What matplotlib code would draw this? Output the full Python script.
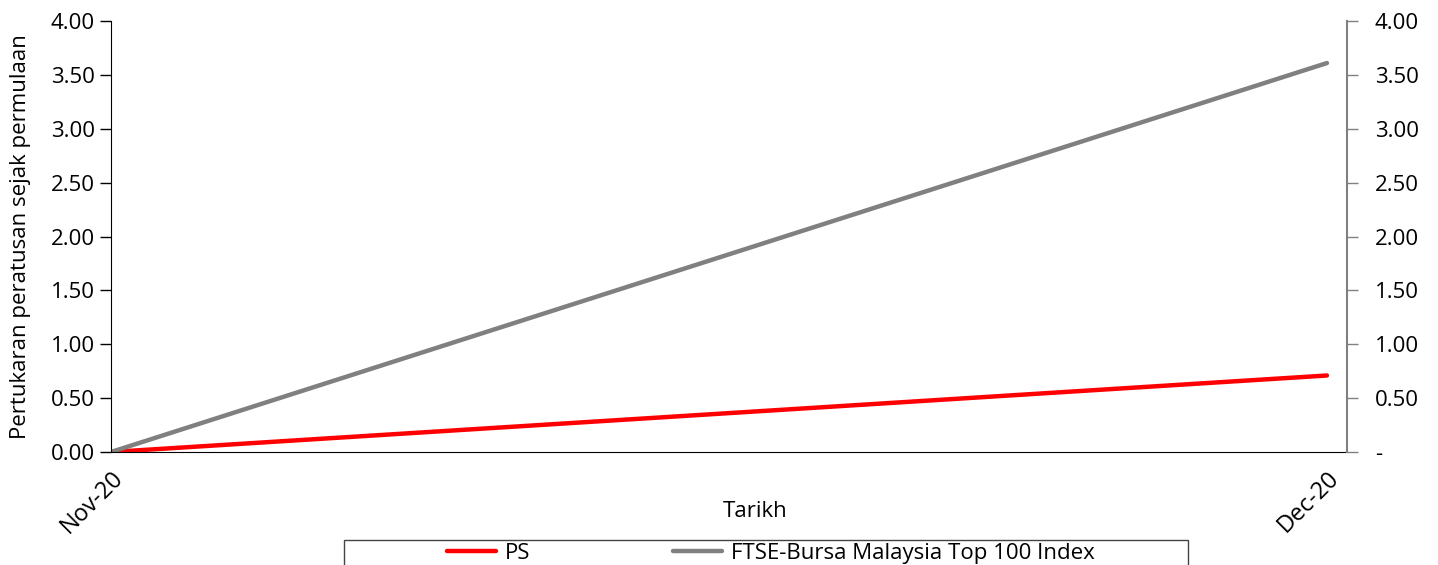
import matplotlib
matplotlib.use("Agg")
from matplotlib import pyplot as plt
from matplotlib.patches import Rectangle
from matplotlib.ticker import FuncFormatter

# data
dates = ["Nov-20", "Dec-20"]
ps = [0.0, 0.71]
ftse = [0.0, 3.61]
series_names = ["PS", "FTSE-Bursa Malaysia Top 100 Index"]

plt.rcParams['font.family'] = ['Open Sans', 'DejaVu Sans']
FS = 16

fig = plt.figure(figsize=(14.38, 5.65), dpi=100)
ax = fig.add_axes([0.0772, 0.2, 0.8595, 0.7628])

x = list(range(len(dates)))
l1, = ax.plot(x, ps, color="#FF0000", lw=3.2, solid_capstyle="round", label=series_names[0])
l2, = ax.plot(x, ftse, color="#808080", lw=3.2, solid_capstyle="round", label=series_names[1])

ax.set_xlim(0, 1 + 20 / 1215)
ax.set_ylim(0, 4)
ax.set_yticks([0, 0.5, 1, 1.5, 2, 2.5, 3, 3.5, 4])
ax.yaxis.set_major_formatter(FuncFormatter(lambda v, p: "%.2f" % v))
ax.set_xticks(x)
ax.set_xticklabels(dates, rotation=45, ha="right", rotation_mode="anchor", fontsize=FS + 1)
ax.tick_params(axis="x", length=0, pad=10)
ax.tick_params(axis="y", labelsize=FS, length=8, width=1, direction="out", colors="black")
ax.spines["top"].set_visible(False)
ax.spines["right"].set_visible(False)
ax.set_ylabel("Pertukaran peratusan sejak permulaan", fontsize=FS, labelpad=14)
fig.text(0.525, 0.095, "Tarikh", fontsize=FS, ha="center", va="center")

ax2 = ax.twinx()
ax2.set_ylim(0, 4)
ax2.set_yticks([0, 0.5, 1, 1.5, 2, 2.5, 3, 3.5, 4])
ax2.yaxis.set_major_formatter(FuncFormatter(lambda v, p: "-" if v == 0 else "%.2f" % v))
ax2.tick_params(axis="y", labelsize=FS, length=8, width=1, color="#808080", pad=12)
for s in ["top", "left", "bottom"]:
    ax2.spines[s].set_visible(False)
ax2.spines["right"].set_color("#808080")
ax2.spines["right"].set_linewidth(1.5)

# legend box, partly cut off at the bottom
fig.patches.append(Rectangle((0.239, -0.05), 0.587, 0.094, transform=fig.transFigure,
                             fill=False, edgecolor="#444444", lw=1))
fig.legend(handles=[l1, l2], loc="center", bbox_to_anchor=(0.536, 0.021), ncol=2,
           frameon=False, fontsize=FS, handlelength=2.2, columnspacing=6.4,
           borderaxespad=0, handletextpad=0.4)

fig.savefig("out.png", dpi=100)
